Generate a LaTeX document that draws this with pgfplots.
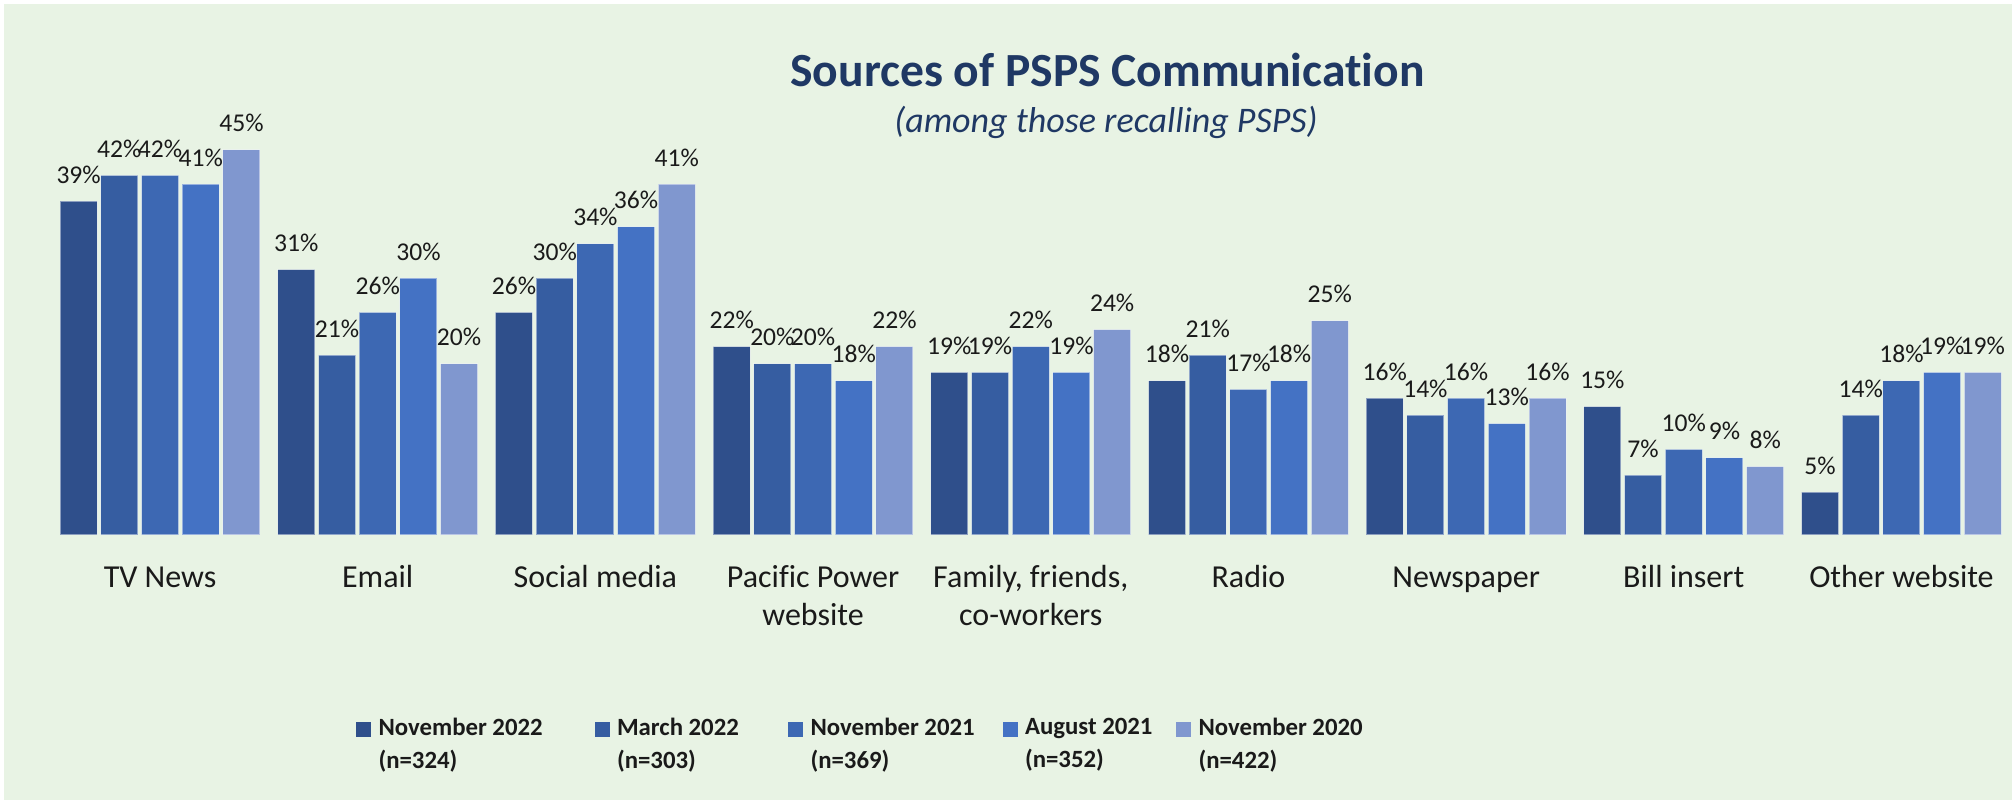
\documentclass[border=0pt]{standalone}
\usepackage{fontspec}
\setmainfont{Carlito}[Ligatures=NoCommon]
\usepackage{pgfplots}
\usepackage{pgfplotstable}
\pgfplotsset{compat=1.18}

\definecolor{bg}{HTML}{E8F3E4}
\definecolor{titleblue}{HTML}{1F3864}
\definecolor{sA}{HTML}{2F4F8B}
\definecolor{sB}{HTML}{365DA1}
\definecolor{sC}{HTML}{3D68B3}
\definecolor{sD}{HTML}{4472C4}
\definecolor{sE}{HTML}{8097CF}
\definecolor{txt}{HTML}{1A1A1A}

% columns: Nov 2022, Mar 2022, Nov 2021, Aug 2021, Nov 2020
\pgfplotstableread{
x a b c d e
0 39 42 42 41 45
1 31 21 26 30 20
2 26 30 34 36 41
3 22 20 20 18 22
4 19 19 22 19 24
5 18 21 17 18 25
6 16 14 16 13 16
7 15 7 10 9 8
8 5 14 18 19 19
}\srcdata

\begin{document}
\begin{tikzpicture}
\fill[white] (0,0) rectangle (1006pt,400.5pt);
\fill[bg] (2pt,0.5pt) rectangle (1006pt,398.5pt);

\node[anchor=base, text=titleblue, font=\bfseries\fontsize{23.8}{28}\selectfont]
  at (553.75pt,357pt) {Sources of PSPS Communication};
\node[anchor=base, text=titleblue, font=\itshape\fontsize{18}{22}\selectfont]
  at (553pt,334pt) {(among those recalling PSPS)};

\begin{axis}[
    at={(25.6pt,133pt)}, anchor=south west,
    scale only axis,
    width=979.55pt, height=214pt,
    xmin=-0.5, xmax=8.5,
    ymin=0, ymax=50,
    clip=false,
    axis line style={draw=none},
    major tick length=0pt,
    ytick=\empty,
    xtick={0,...,8},
    xticklabels={TV News, Email, Social media, {Pacific Power\\website},
      {Family, friends,\\co-workers}, Radio, Newspaper, Bill insert, Other website},
    typeset ticklabels with strut,
    xticklabel style={font=\fontsize{16}{19.2}\selectfont, text=txt, align=center,
      inner sep=0pt, anchor=north, yshift=-12.4pt},
    ybar=1.85pt,
    bar width=18.5pt,
    every axis plot/.append style={draw=white, draw opacity=0.45, line width=0.5pt},
    nodes near coords={\pgfmathprintnumber{\pgfplotspointmeta}\%},
    /pgf/number format/assume math mode=true,
    every node near coord/.append style={font=\fontsize{12.8}{15}\selectfont,
      text=txt, anchor=base, inner sep=0pt, yshift=9pt},
    legend style={
      at={(0.1556,-0.4276)}, anchor=north west,
      draw=none, fill=none, inner sep=0pt, outer sep=0pt,
      font=\bfseries\fontsize{12.4}{16.5}\selectfont,
      text=txt,
      nodes={align=left, inner sep=0pt},
      /tikz/every even column/.append style={column sep=0pt},
    },
    legend columns=5,
    legend cell align=left,
    legend image code/.code={
      \fill[#1, draw=none] (0pt,3.7pt) rectangle (7.5pt,11.2pt);
      \path (11pt,0pt);
    },
]
\addplot[fill=sA] table[x=x, y=a] {\srcdata};
\addplot[fill=sB] table[x=x, y=b] {\srcdata};
\addplot[fill=sC] table[x=x, y=c] {\srcdata};
\addplot[fill=sD] table[x=x, y=d] {\srcdata};
\addplot[fill=sE] table[x=x, y=e] {\srcdata};
\legend{{\makebox[108pt][l]{November 2022}\\(n=324)},
  {\makebox[85.5pt][l]{March 2022}\\(n=303)},
  {\makebox[96pt][l]{November 2021}\\(n=369)},
  {\makebox[75.5pt][l]{August 2021}\\(n=352)},
  {November 2020\\(n=422)}}
\end{axis}

\pgfresetboundingbox
\path[use as bounding box] (0,0) rectangle (1006pt,400.5pt);
\end{tikzpicture}
\end{document}
